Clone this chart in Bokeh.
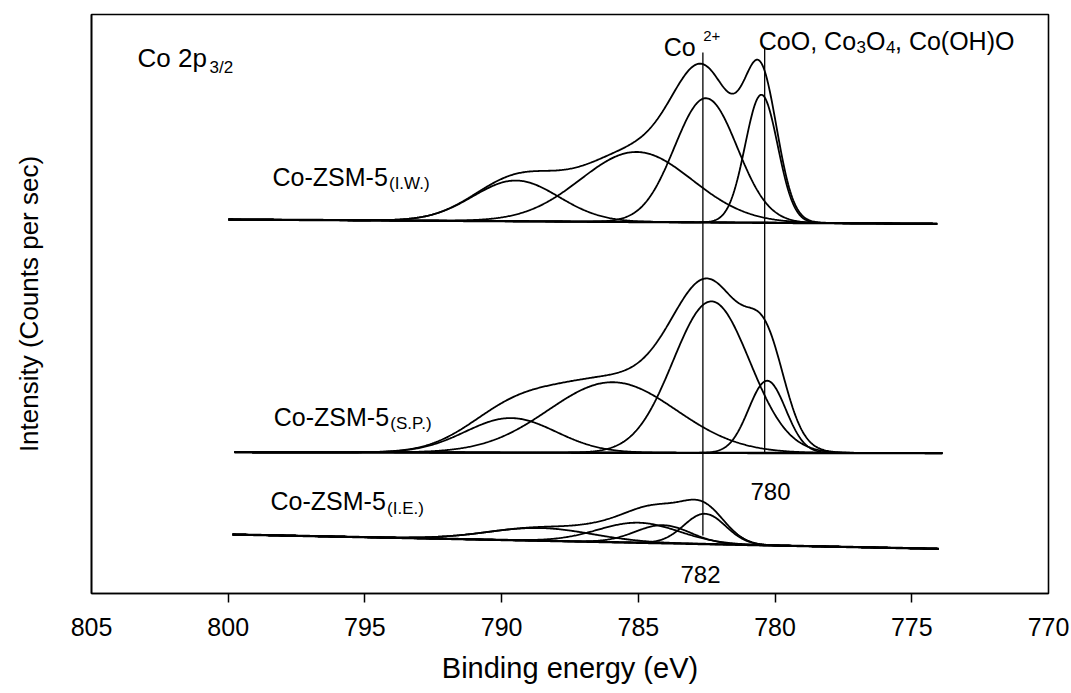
import numpy as np
from bokeh.plotting import figure
from bokeh.models import Range1d, Label, FixedTicker
from bokeh.embed import file_html
from bokeh.resources import INLINE

FONT = "Liberation Sans"

# ---------------- data ----------------
tick_values = [805, 800, 795, 790, 785, 780, 775, 770]
tick_marks = [800, 795, 790, 785, 780, 775]
tick_labels = [str(v) for v in tick_values]

# Fitted Co 2p3/2 components: centre (eV), height (a.u.), FWHM (eV)
# Co-ZSM-5 (I.W.)
iw_span = [799.99, 774.07]
iw_background = [374.0, 369.7]
iw_center = [789.48, 785.07, 782.53, 780.50]
iw_height = [40.7, 70.0, 124.2, 128.0]
iw_fwhm = [3.7, 4.8, 2.7, 1.4]

# Co-ZSM-5 (S.P.)
sp_span = [799.77, 773.88]
sp_background = [141.3, 140.3]
sp_center = [789.67, 785.95, 782.33, 780.29]
sp_height = [34.5, 70.5, 151.5, 72.2]
sp_fwhm = [3.9, 5.5, 3.3, 1.6]

# Co-ZSM-5 (I.E.)
ie_span = [799.84, 774.02]
ie_background = [59.0, 44.7]
ie_center = [788.60, 785.00, 784.10, 782.57]
ie_height = [12.7, 20.0, 18.0, 30.3]
ie_fwhm = [4.5, 3.5, 2.4, 1.8]

# reference lines (Co2+ and CoO/Co3O4/Co(OH)O)
ref_energy = [782.64, 780.38]
ref_top = [541, 546]
ref_bottom = [58, 141]


def spectrum(span, bg, centers, heights, fwhms, n=700):
    e = np.linspace(span[0], span[1], n)
    base = bg[0] + (bg[1] - bg[0]) * (e - span[0]) / (span[1] - span[0])
    comps = []
    for c, h, w in zip(centers, heights, fwhms):
        s = w / 2.3548
        comps.append(h * np.exp(-0.5 * ((e - c) / s) ** 2))
    env = base + np.sum(comps, axis=0)
    return e, base, [base + c for c in comps], env


p = figure(width=1071, height=693,
           x_range=Range1d(805, 770), y_range=Range1d(0, 579),
           output_backend="svg", toolbar_location=None,
           min_border_left=91, min_border_right=23,
           min_border_top=14, min_border_bottom=100)
p.grid.visible = False
p.background_fill_color = "white"
p.border_fill_color = "white"
p.outline_line_color = "black"
p.outline_line_width = 1.6

LW = 1.8
for span, bg, cen, hei, fw in [
        (iw_span, iw_background, iw_center, iw_height, iw_fwhm),
        (sp_span, sp_background, sp_center, sp_height, sp_fwhm),
        (ie_span, ie_background, ie_center, ie_height, ie_fwhm)]:
    e, base, comps, env = spectrum(span, bg, cen, hei, fw)
    p.line(e, base, line_color="black", line_width=LW + 0.6)
    for c in comps:
        p.line(e, c, line_color="black", line_width=LW)
    p.line(e, env, line_color="black", line_width=LW)

p.segment(x0=ref_energy, y0=ref_bottom, x1=ref_energy, y1=ref_top,
          line_color="black", line_width=1.3)

# x axis
xa = p.xaxis[0]
xa.ticker = FixedTicker(ticks=tick_values, minor_ticks=tick_marks)
xa.major_label_overrides = {v: s for v, s in zip(tick_values, tick_labels)}
xa.major_tick_line_color = None
xa.major_tick_out = 0
xa.major_tick_in = 0
xa.minor_tick_out = 9
xa.minor_tick_in = 0
xa.minor_tick_line_color = "black"
xa.minor_tick_line_width = 1.5
xa.axis_line_color = "black"
xa.axis_line_width = 1.6
xa.major_label_text_font = FONT
xa.major_label_text_font_size = "25px"
xa.major_label_text_color = "black"
xa.major_label_standoff = 15
xa.axis_label = "Binding energy (eV)"
xa.axis_label_text_font = FONT
xa.axis_label_text_font_size = "29px"
xa.axis_label_text_font_style = "normal"
xa.axis_label_text_color = "black"
xa.axis_label_standoff = 13

# y axis
ya = p.yaxis[0]
ya.ticker = FixedTicker(ticks=[])
ya.major_tick_out = 0
ya.major_tick_in = 0
ya.minor_tick_out = 0
ya.minor_tick_in = 0
ya.major_label_standoff = 0
ya.axis_line_color = "black"
ya.axis_line_width = 1.6
ya.axis_label = "Intensity (Counts per sec)"
ya.axis_label_text_font = FONT
ya.axis_label_text_font_size = "26px"
ya.axis_label_text_font_style = "normal"
ya.axis_label_text_color = "black"
ya.axis_label_standoff = 48


def lab(x, y, text, size):
    p.add_layout(Label(x=x, y=y, text=text, text_font=FONT,
                       text_font_size=size, text_color="black",
                       text_baseline="alphabetic", text_align="left"))


MAIN = "25px"
SUB = "17px"
lab(803.318, 535.3, "Co 2p", "26px")
lab(800.684, 526.3, "3/2", SUB)

lab(784.070, 546.3, "Co", MAIN)
lab(782.629, 557.3, "2+", "15px")

lab(780.595, 552.3, "CoO, Co", MAIN)
lab(777.022, 546.3, "3", SUB)
lab(776.675, 552.3, "O", MAIN)
lab(775.944, 546.3, "4", SUB)
lab(775.614, 552.3, ", Co(OH)O", MAIN)

lab(798.380, 416.3, "Co-ZSM-5", MAIN)
lab(794.120, 409.7, "(I.W.)", SUB)
lab(798.333, 176.3, "Co-ZSM-5", MAIN)
lab(794.070, 169.7, "(S.P.)", SUB)
lab(798.453, 93.0, "Co-ZSM-5", MAIN)
lab(794.190, 84.7, "(I.E.)", SUB)

lab(780.899, 102.3, "780", "24px")
lab(783.459, 19.0, "782", "24px")

open("out.html", "w").write(file_html(p, INLINE))
